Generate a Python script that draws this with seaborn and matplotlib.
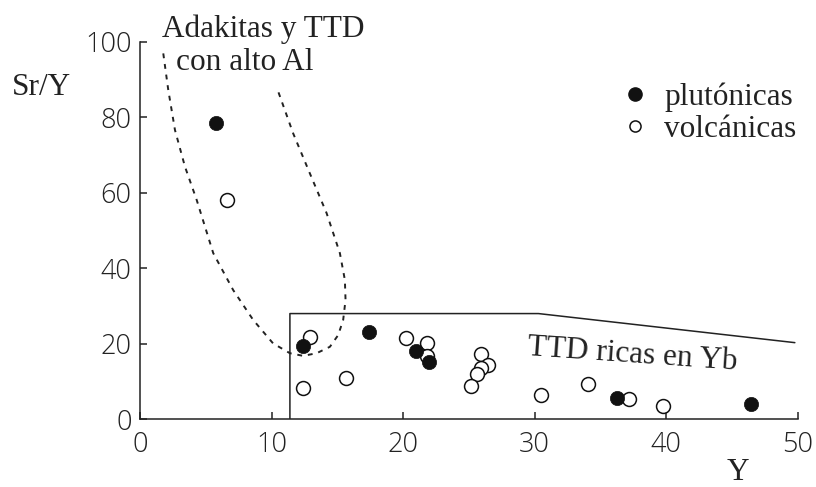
import matplotlib
matplotlib.use("Agg")
import matplotlib.pyplot as plt
from matplotlib.lines import Line2D
import seaborn as sns
import pandas as pd

# ---- data ----
plut_x = [5.8, 12.4, 17.4, 21.0, 22.0, 36.3, 46.5]
plut_y = [78.5, 19.5, 23.0, 18.0, 15.2, 5.7, 4.0]
volc_x = [6.6, 12.9, 12.4, 15.7, 20.2, 21.8, 21.8, 25.9, 26.5, 25.9, 25.65, 25.2, 30.5, 34.1, 37.2, 39.8]
volc_y = [58.1, 21.7, 8.2, 11.0, 21.4, 20.1, 16.8, 17.3, 14.5, 13.6, 11.9, 8.8, 6.4, 9.3, 5.5, 3.5]

ttd_x = [11.4, 11.4, 30.3, 49.8]
ttd_y = [0.0, 28.0, 28.0, 20.3]

adk_x = [1.77, 2.15, 2.66, 3.42, 4.31, 5.57, 7.09, 8.61, 10.12, 11.40, 12.41, 13.43,
         14.44, 15.07, 15.45, 15.63, 15.58, 15.20, 14.19, 12.92, 11.65, 10.51]
adk_y = [96.9, 87.2, 76.6, 66.9, 58.1, 44.0, 34.2, 26.3, 20.1, 17.5, 16.8, 17.5,
         19.2, 22.3, 26.3, 31.6, 36.9, 44.0, 54.6, 65.1, 75.7, 86.8]

x_ticks = [0, 10, 20, 30, 40, 50]
y_ticks = [0, 20, 40, 60, 80, 100]
labels = ["plutónicas", "volcánicas"]

# ---- style ----
sns.set_style("ticks")
plt.rcParams["font.family"] = ["Open Sans", "DejaVu Sans"]
SERIF = ["Liberation Serif", "DejaVu Serif"]
FS = 22.5

fig = plt.figure(figsize=(8.16, 4.87), dpi=100)
ax = fig.add_axes([140 / 816, (487 - 419.3) / 487, (797.5 - 140) / 816, (419.3 - 41.7) / 487])

df_v = pd.DataFrame({"Y": volc_x, "SrY": volc_y})
df_p = pd.DataFrame({"Y": plut_x, "SrY": plut_y})
df_ttd = pd.DataFrame({"Y": ttd_x, "SrY": ttd_y})
df_adk = pd.DataFrame({"Y": adk_x, "SrY": adk_y})

sns.lineplot(data=df_ttd, x="Y", y="SrY", sort=False, estimator=None, color="#222222",
             lw=1.1, ax=ax, zorder=1)
sns.lineplot(data=df_adk, x="Y", y="SrY", sort=False, estimator=None, color="#222222",
             lw=1.4, ax=ax, zorder=1)
ax.lines[-1].set_linestyle((0, (2.5, 3)))

sns.scatterplot(data=df_v, x="Y", y="SrY", marker="o", s=100, facecolor="white",
                edgecolor="#111111", linewidth=1.1, ax=ax, zorder=3)
sns.scatterplot(data=df_p, x="Y", y="SrY", marker="o", s=105, color="#111111",
                edgecolor="#111111", linewidth=0.5, ax=ax, zorder=4)

ax.set_xlim(0, 50)
ax.set_ylim(0, 100)
ax.set_xticks(x_ticks)
ax.set_yticks(y_ticks)
ax.tick_params(direction="in", length=5, width=1.1, labelsize=19.5, color="#222222",
               labelcolor="#222222")
ax.tick_params(axis="x", pad=8.5)
ax.tick_params(axis="y", pad=6)
for lab in ax.get_xticklabels() + ax.get_yticklabels():
    lab.set_fontweight("light")
sns.despine(ax=ax)
for s in ("left", "bottom"):
    ax.spines[s].set_linewidth(1.1)
    ax.spines[s].set_color("#222222")

ax.set_xlabel("Y", family=SERIF, fontsize=FS, color="#222222", va="bottom")
ax.xaxis.set_label_coords((737.5 - 140) / 657.5, (419.3 - 486.5) / 377.6)
ax.set_ylabel("Sr/Y", family=SERIF, fontsize=FS, color="#222222", rotation=0,
              ha="left", va="baseline")
ax.yaxis.set_label_coords((12 - 140) / 657.5, (419.3 - 95) / 377.6)

ax.text(1.67, 101.2, "Adakitas y TTD", family=SERIF, fontsize=FS, color="#222222",
        ha="left", va="baseline", clip_on=False)
ax.text(2.74, 92.5, "con alto Al", family=SERIF, fontsize=FS, color="#222222",
        ha="left", va="baseline", clip_on=False)
ax.text(29.4, 17.0, "TTD ricas en Yb", family=SERIF, fontsize=FS, color="#222222",
        ha="left", va="baseline", rotation=-4, rotation_mode="anchor")

handles = [
    Line2D([], [], ls="none", marker="o", markersize=9.5, color="#111111"),
    Line2D([], [], ls="none", marker="o", markersize=8, markerfacecolor="white",
           markeredgecolor="#111111", markeredgewidth=1.1),
]
leg = ax.legend(handles, labels, loc="upper left",
                bbox_to_anchor=(619 / 816, 1 - 82 / 487), bbox_transform=fig.transFigure,
                frameon=False, handlelength=1.0, handletextpad=0.45, labelspacing=0.1,
                borderpad=0, borderaxespad=0, prop={"family": SERIF, "size": FS})
for t in leg.get_texts():
    t.set_color("#222222")

fig.savefig("out.png", dpi=100)
